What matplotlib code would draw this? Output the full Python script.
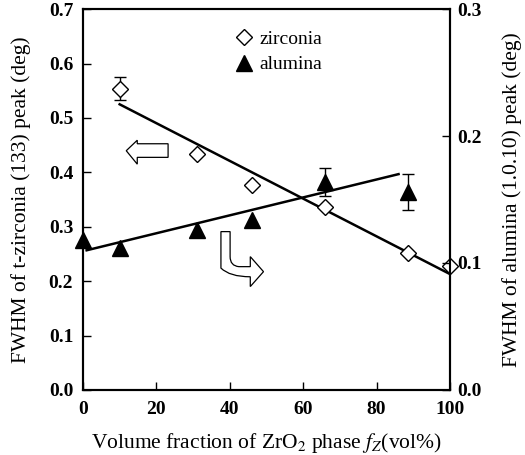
import matplotlib.pyplot as plt
from matplotlib.path import Path
from matplotlib.patches import PathPatch
from matplotlib.lines import Line2D

plt.rcParams['font.family'] = ['Liberation Serif', 'DejaVu Serif']
plt.rcParams['mathtext.fontset'] = 'stix'

# zirconia (left axis)
zr_x = [10, 31, 46, 66, 88.5, 100]
zr_y = [0.554, 0.434, 0.377, 0.336, 0.251, 0.227]
zr_err = [0.021, 0, 0, 0, 0, 0]
zr_fit_x = [10, 100]
zr_fit_y = [0.525, 0.213]

# alumina (right axis)
al_x = [0, 10, 31, 46, 66, 88.5]
al_y = [0.118, 0.112, 0.126, 0.134, 0.164, 0.156]
al_err = [0, 0, 0, 0, 0.011, 0.014]
al_fit_x = [1, 86]
al_fit_y = [0.110, 0.170]

fig = plt.figure(figsize=(5.25, 4.55), dpi=100)
ax = fig.add_axes([0.158, 0.143, 0.699, 0.837])
ax2 = ax.twinx()


def err_only(xs, ys, es):
    keep = [i for i, e in enumerate(es) if e > 0]
    return [xs[i] for i in keep], [ys[i] for i in keep], [es[i] for i in keep]


ax.plot(zr_fit_x, zr_fit_y, color='black', lw=1.8, zorder=2)
ex, ey, ee = err_only(zr_x, zr_y, zr_err)
ax.errorbar(ex, ey, yerr=ee, fmt='none', ecolor='black', elinewidth=1.0,
            capsize=4, capthick=1.0, zorder=2.5)
ax.plot(zr_x, zr_y, ls='none', marker='D', ms=8.5, mfc='white', mec='black',
        mew=1.0, zorder=3, clip_on=False)

ax2.plot(al_fit_x, al_fit_y, color='black', lw=1.8, zorder=2)
ex, ey, ee = err_only(al_x, al_y, al_err)
ax2.errorbar(ex, ey, yerr=ee, fmt='none', ecolor='black', elinewidth=1.0,
             capsize=4, capthick=1.0, zorder=2.5)
ax2.plot(al_x, al_y, ls='none', marker='^', ms=11, mfc='black', mec='black',
         zorder=3, clip_on=False)

ax.set_xlim(0, 100)
ax.set_ylim(0, 0.7)
ax2.set_ylim(0, 0.3)
ax.set_xticks([0, 20, 40, 60, 80, 100])
ax.set_yticks([0.0, 0.1, 0.2, 0.3, 0.4, 0.5, 0.6, 0.7])
ax2.set_yticks([0.0, 0.1, 0.2, 0.3])
ax.set_yticklabels(['%.1f' % v for v in ax.get_yticks()])
ax2.set_yticklabels(['%.1f' % v for v in ax2.get_yticks()])

for a in (ax, ax2):
    a.tick_params(direction='in', length=6, width=1.0, labelsize=14)
    for lab in a.get_xticklabels() + a.get_yticklabels():
        lab.set_fontweight('bold')
    for s in a.spines.values():
        s.set_linewidth(1.5)
ax.tick_params(axis='y', pad=7)
ax2.tick_params(axis='y', pad=5)
ax.tick_params(axis='x', pad=8)

ax.set_ylabel('FWHM of t-zirconia (133) peak (deg)', fontsize=15.5, labelpad=13)
ax2.set_ylabel('FWHM of alumina (1.0.10) peak (deg)', fontsize=15.5, labelpad=15)
ax.set_xlabel(r'Volume fraction of ZrO$_2$ phase $f_Z$(vol%)', fontsize=15.5, labelpad=9)

# hollow left arrow
left_arrow = [(11.8, 0.4397), (14.8, 0.459), (14.8, 0.4525), (23.2, 0.4525),
              (23.2, 0.4275), (14.8, 0.4275), (14.8, 0.415), (11.8, 0.4397)]
ax.add_patch(PathPatch(Path(left_arrow, closed=True), fc='white', ec='black',
                       lw=0.9, zorder=4))

# hollow bent arrow (down then right)
verts = [(37.6, 0.291), (40.1, 0.291), (40.1, 0.245),
         (40.1, 0.228), (42.5, 0.2266), (45.6, 0.2266),
         (45.6, 0.245), (49.2, 0.2174), (45.6, 0.190), (45.6, 0.208),
         (40.0, 0.208), (37.6, 0.224), (37.6, 0.245), (37.6, 0.291)]
codes = [Path.MOVETO, Path.LINETO, Path.LINETO,
         Path.CURVE3, Path.CURVE3, Path.LINETO,
         Path.LINETO, Path.LINETO, Path.LINETO, Path.LINETO,
         Path.CURVE3, Path.CURVE3, Path.LINETO, Path.CLOSEPOLY]
ax.add_patch(PathPatch(Path(verts, codes), fc='white', ec='black', lw=0.9, zorder=4))

handles = [Line2D([], [], ls='none', marker='D', ms=8.5, mfc='white', mec='black'),
           Line2D([], [], ls='none', marker='^', ms=11, mfc='black', mec='black')]
leg = ax2.legend(handles, ['zirconia', 'alumina'], loc='upper center',
                 bbox_to_anchor=(0.535, 0.99), frameon=False, fontsize=14,
                 handlelength=0.8, handletextpad=0.4, labelspacing=0.4)

fig.savefig('out.png', dpi=100)
